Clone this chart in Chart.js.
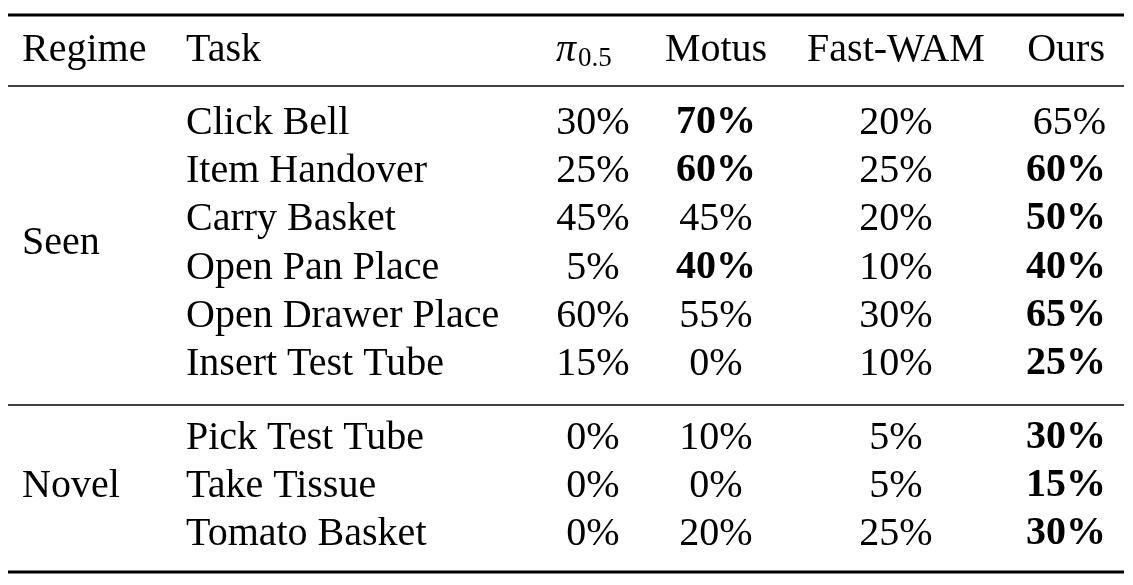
<!DOCTYPE html>
<html>
<head>
<meta charset="utf-8">
<script src="https://cdn.jsdelivr.net/npm/chart.js@4/dist/chart.umd.min.js"></script>
<style>
  html, body { margin: 0; padding: 0; background: #fff; }
  #wrap { width: 1133px; height: 585px; }
</style>
</head>
<body>
<div id="wrap"><canvas id="tbl"></canvas></div>
<script>
const headers = ['Regime', 'Task', 'pi', 'Motus', 'Fast-WAM', 'Ours'];
const seenTasks = ['Click Bell', 'Item Handover', 'Carry Basket', 'Open Pan Place', 'Open Drawer Place', 'Insert Test Tube'];
const novelTasks = ['Pick Test Tube', 'Take Tissue', 'Tomato Basket'];
const pi05 = [30, 25, 45, 5, 60, 15, 0, 0, 0];
const motus = [70, 60, 45, 40, 55, 0, 10, 0, 20];
const fastWam = [20, 25, 20, 10, 30, 10, 5, 5, 25];
const ours = [65, 60, 50, 40, 65, 25, 30, 15, 30];
const boldMotus = [true, true, false, true, false, false, false, false, false];
const boldOurs = [false, true, true, true, true, true, true, true, true];

// layout (pixel units of a 1133x585 page)
const rowY = [50, 123, 171, 219, 268, 316, 364, 438, 486, 534];
const colX = { regime: 22, task: 186, pi: 593, motus: 716, fast: 896, ours: 1064 };
const rules = [{ y: 15, w: 3.2 }, { y: 86, w: 1.6 }, { y: 405, w: 1.6 }, { y: 572, w: 3.2 }];
const FONT = '"Liberation Serif", "DejaVu Serif", serif';
const SIZE = 40;

const tablePlugin = {
  id: 'tablePlugin',
  afterDraw(chart) {
    const ctx = chart.ctx;
    const xs = chart.scales.x, ys = chart.scales.y;
    const px = v => xs.getPixelForValue(v);
    const py = v => ys.getPixelForValue(v);
    ctx.save();
    ctx.fillStyle = '#000';
    ctx.strokeStyle = '#000';
    rules.forEach(r => {
      ctx.lineWidth = r.w;
      ctx.beginPath();
      ctx.moveTo(px(8), py(r.y));
      ctx.lineTo(px(1124), py(r.y));
      ctx.stroke();
    });
    ctx.textBaseline = 'middle';
    const text = (s, x, y, align, bold) => {
      ctx.font = (bold ? 'bold ' : '') + SIZE + 'px ' + FONT;
      ctx.textAlign = align;
      ctx.fillText(s, px(x), py(y));
    };
    // header
    text(headers[0], colX.regime, rowY[0], 'left');
    text(headers[1], colX.task, rowY[0], 'left');
    ctx.font = 'italic ' + SIZE + 'px ' + FONT;
    ctx.textAlign = 'left';
    ctx.fillText('π', px(556), py(rowY[0]));
    ctx.font = '27px ' + FONT;
    ctx.fillText('0.5', px(578), py(rowY[0] + 9));
    text(headers[3], colX.motus, rowY[0], 'center');
    text(headers[4], colX.fast, rowY[0], 'center');
    text(headers[5], 1105, rowY[0], 'right');
    // regimes
    text('Seen', colX.regime, (rowY[3] + rowY[4]) / 2, 'left');
    text('Novel', colX.regime, rowY[8], 'left');
    const tasks = seenTasks.concat(novelTasks);
    tasks.forEach((t, i) => {
      const y = rowY[i + 1];
      text(t, colX.task, y, 'left');
      text(pi05[i] + '%', colX.pi, y, 'center');
      text(motus[i] + '%', colX.motus, y, 'center', boldMotus[i]);
      text(fastWam[i] + '%', colX.fast, y, 'center');
      text(ours[i] + '%', 1106, y, 'right', boldOurs[i]);
    });
    ctx.restore();
  }
};

new Chart(document.getElementById('tbl'), {
  type: 'scatter',
  data: { datasets: [{ data: [] }] },
  options: {
    responsive: true,
    maintainAspectRatio: false,
    animation: false,
    layout: { padding: 0 },
    plugins: { legend: { display: false }, tooltip: { enabled: false } },
    scales: {
      x: { type: 'linear', min: 0, max: 1133, display: false },
      y: { type: 'linear', min: 0, max: 585, reverse: true, display: false }
    }
  },
  plugins: [tablePlugin]
});
</script>
</body>
</html>
